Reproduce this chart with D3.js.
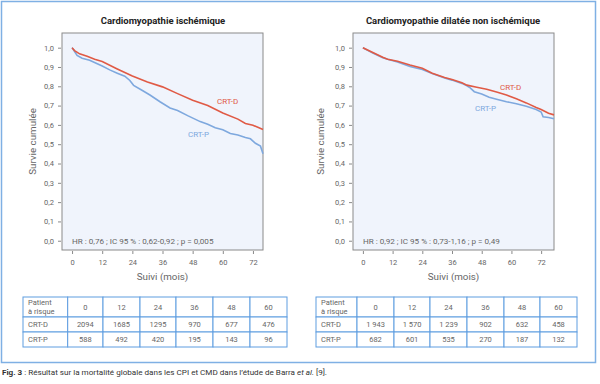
<!DOCTYPE html>
<html>
<head>
<meta charset="utf-8">
<script src="https://cdn.jsdelivr.net/npm/d3@7"></script>
<style>
  body { margin: 0; background: #fff; }
  svg { font-family: Roboto, "DejaVu Sans", sans-serif; }
</style>
</head>
<body>
<div id="chart"></div>
<script>
// ---- data ----
const panelTitles = ["Cardiomyopathie ischémique", "Cardiomyopathie dilatée non ischémique"];
const hrTexts = [
    "HR : 0,76 ; IC 95 % : 0,62-0,92 ; p = 0,005",
    "HR : 0,92 ; IC 95 % : 0,73-1,16 ; p = 0,49"
];
const seriesNames = ["CRT-D", "CRT-P"];
const xTicks = [0, 12, 24, 36, 48, 60, 72];
const yTicks = [0, 0.1, 0.2, 0.3, 0.4, 0.5, 0.6, 0.7, 0.8, 0.9, 1.0];

// left panel (ischemic)
const ischCrtdMonths = [0, 1, 3, 6, 9, 12, 18, 24, 30, 36, 42, 48, 54, 60, 66, 69, 72, 76];
const ischCrtdSurv   = [1.0, 0.985, 0.968, 0.955, 0.94, 0.928, 0.89, 0.853, 0.822, 0.797, 0.762, 0.728, 0.70, 0.662, 0.63, 0.607, 0.598, 0.576];
const ischCrtpMonths = [0, 1, 2, 4, 7, 12, 15, 18, 21, 23, 24.5, 28, 31, 35, 39, 42, 46, 51, 54, 57, 60, 63, 66, 69, 71, 73, 75, 75.5, 76];
const ischCrtpSurv   = [1.0, 0.98, 0.96, 0.945, 0.935, 0.905, 0.885, 0.868, 0.852, 0.83, 0.805, 0.778, 0.755, 0.72, 0.688, 0.675, 0.648, 0.617, 0.603, 0.585, 0.575, 0.555, 0.548, 0.535, 0.528, 0.505, 0.49, 0.47, 0.45];

// right panel (dilated non-ischemic)
const dilCrtdMonths = [0, 4, 8, 10, 14, 19, 24, 28, 33, 36, 40, 42, 46, 50, 54, 58, 62, 66, 70, 72, 75, 77.2];
const dilCrtdSurv   = [1.0, 0.975, 0.95, 0.94, 0.93, 0.91, 0.893, 0.868, 0.845, 0.835, 0.818, 0.806, 0.795, 0.785, 0.77, 0.755, 0.735, 0.714, 0.69, 0.68, 0.66, 0.652];
const dilCrtpMonths = [0, 4, 8, 10, 14, 19, 24, 28, 33, 36, 40, 42, 43, 45, 48, 51, 54, 58, 62, 66, 70, 72, 72.8, 75, 77.2];
const dilCrtpSurv   = [1.0, 0.972, 0.948, 0.94, 0.926, 0.902, 0.887, 0.866, 0.843, 0.832, 0.815, 0.803, 0.795, 0.772, 0.76, 0.743, 0.733, 0.72, 0.71, 0.697, 0.68, 0.667, 0.642, 0.638, 0.632];

// patients at risk
const riskHeader = ["0", "12", "24", "36", "48", "60"];
const ischRiskCrtd = ["2094", "1685", "1295", "970", "677", "476"];
const ischRiskCrtp = ["588", "492", "420", "195", "143", "96"];
const dilRiskCrtd = ["1 943", "1 570", "1 239", "902", "632", "458"];
const dilRiskCrtp = ["682", "601", "535", "270", "187", "132"];

const colors = { "CRT-D": "#e05a45", "CRT-P": "#7ea8de" };
const gray = "#666";
const tableBlue = "#5f9de0";

const width = 600, height = 384;

const svg = d3.select("#chart").append("svg")
    .attr("width", width)
    .attr("height", height);

// outer frame
svg.append("rect")
    .attr("x", 1.5).attr("y", 1.5)
    .attr("width", 594).attr("height", 361)
    .attr("fill", "none")
    .attr("stroke", "#7fb0e4")
    .attr("stroke-width", 1.5);

const panels = [
    {
        left: 62, right: 263, xMax: 76,
        title: panelTitles[0], titleX: 163,
        hr: hrTexts[0], yLabelX: 33,
        series: [
            { name: "CRT-P", months: ischCrtpMonths, surv: ischCrtpSurv },
            { name: "CRT-D", months: ischCrtdMonths, surv: ischCrtdSurv }
        ],
        labels: { "CRT-D": [217, 101], "CRT-P": [188, 134] },
        table: { x: 23, cols: [44.7, 35.3, 37, 36, 37, 37, 37], rows: [ischRiskCrtd, ischRiskCrtp] }
    },
    {
        left: 353, right: 554, xMax: 77.2,
        title: panelTitles[1], titleX: 453,
        hr: hrTexts[1], yLabelX: 321,
        series: [
            { name: "CRT-P", months: dilCrtpMonths, surv: dilCrtpSurv },
            { name: "CRT-D", months: dilCrtdMonths, surv: dilCrtdSurv }
        ],
        labels: { "CRT-D": [500, 87], "CRT-P": [475, 108] },
        table: { x: 316, cols: [41, 37, 36, 37, 37, 36, 37], rows: [dilRiskCrtd, dilRiskCrtp] }
    }
];

const plotTop = 33, plotBottom = 250;

panels.forEach(p => {
    let g = svg.append("g");

    let x = d3.scaleLinear().domain([-4, p.xMax]).range([p.left, p.right]);
    let y = d3.scaleLinear().domain([-0.048, 1.076]).range([plotBottom, plotTop]);

    // plot background + border
    g.append("rect")
        .attr("x", p.left).attr("y", plotTop)
        .attr("width", p.right - p.left).attr("height", plotBottom - plotTop)
        .attr("fill", "#f0f4fc")
        .attr("stroke", "#8a8a8a")
        .attr("stroke-width", 1);

    // title
    g.append("text")
        .attr("x", p.titleX).attr("y", 24)
        .attr("text-anchor", "middle")
        .style("font-size", "9.5px").style("font-weight", "bold")
        .attr("fill", "#222")
        .text(p.title);

    // axes
    let yAxis = d3.axisLeft(y).tickValues(yTicks).tickSize(3).tickPadding(4)
        .tickFormat(d => d3.format(".1f")(d).replace(".", ","));
    let ya = g.append("g").attr("transform", "translate(" + (p.left - 1) + ",0)").call(yAxis);

    let xAxis = d3.axisBottom(x).tickValues(xTicks).tickSize(3).tickPadding(6);
    let xa = g.append("g").attr("transform", "translate(0," + (plotBottom + 1) + ")").call(xAxis);

    [ya, xa].forEach(a => {
        a.select(".domain").remove();
        a.selectAll(".tick line").attr("stroke", "#8a8a8a");
        a.selectAll(".tick text").attr("fill", gray).style("font-size", "7.5px")
            .style("font-family", "Roboto, sans-serif");
    });

    // axis titles
    g.append("text")
        .attr("transform", "translate(" + p.yLabelX + "," + (plotTop + plotBottom) / 2 + ") rotate(-90)")
        .attr("text-anchor", "middle")
        .attr("dy", "0.35em")
        .style("font-size", "9.8px")
        .attr("fill", gray)
        .text("Survie cumulée");

    g.append("text")
        .attr("x", (p.left + p.right) / 2).attr("y", 280)
        .attr("text-anchor", "middle")
        .style("font-size", "9.8px")
        .attr("fill", gray)
        .text("Suivi (mois)");

    // HR annotation
    g.append("text")
        .attr("x", x(0)).attr("y", y(0)).attr("dy", "0.35em")
        .style("font-size", "8.1px")
        .attr("fill", gray)
        .text(p.hr);

    // curves
    let line = d3.line()
        .x(d => x(d[0]))
        .y(d => y(d[1]))
        .curve(d3.curveLinear);

    p.series.forEach(s => {
        let pts = s.months.map((m, i) => [m, s.surv[i]]);
        g.append("path")
            .datum(pts)
            .attr("d", line)
            .attr("fill", "none")
            .attr("stroke", colors[s.name])
            .attr("stroke-width", 1.6);

        g.append("text")
            .attr("x", p.labels[s.name][0]).attr("y", p.labels[s.name][1])
            .attr("dy", "0.35em")
            .style("font-size", "8px")
            .attr("fill", colors[s.name])
            .text(s.name);
    });

    // risk table
    let t = p.table;
    let rowH = [20, 15, 15];
    let rowY = [297, 317, 332, 347];
    let colX = [t.x];
    t.cols.forEach(w => colX.push(colX[colX.length - 1] + w));

    let tableRows = [["", ...riskHeader], ["CRT-D", ...t.rows[0]], ["CRT-P", ...t.rows[1]]];

    let tg = g.append("g");
    tableRows.forEach((row, r) => {
        row.forEach((cell, c) => {
            tg.append("rect")
                .attr("x", colX[c]).attr("y", rowY[r])
                .attr("width", colX[c + 1] - colX[c]).attr("height", rowH[r])
                .attr("fill", "#fff")
                .attr("stroke", tableBlue)
                .attr("stroke-width", 1);
            if (r === 0 && c === 0) {
                tg.append("text")
                    .attr("x", colX[0] + 5).attr("y", rowY[0] + 8)
                    .style("font-size", "7.5px").attr("fill", gray)
                    .text("Patient");
                tg.append("text")
                    .attr("x", colX[0] + 5).attr("y", rowY[0] + 17)
                    .style("font-size", "7.5px").attr("fill", gray)
                    .text("à risque");
            } else {
                tg.append("text")
                    .attr("x", c === 0 ? colX[0] + 5 : (colX[c] + colX[c + 1]) / 2)
                    .attr("y", rowY[r] + rowH[r] / 2)
                    .attr("dy", "0.35em")
                    .attr("text-anchor", c === 0 ? "start" : "middle")
                    .style("font-size", "7.5px").attr("fill", gray)
                    .text(cell);
            }
        });
    });
});

// caption
let cap = svg.append("text")
    .attr("x", 2).attr("y", 375)
    .style("font-size", "8.1px")
    .attr("fill", "#333");
cap.append("tspan").style("font-weight", "bold").text("Fig. 3");
cap.append("tspan").text(" : Résultat sur la mortalité globale dans les CPI et CMD dans l’étude de Barra ");
cap.append("tspan").style("font-style", "italic").text("et al.");
cap.append("tspan").text(" [9].");
</script>
</body>
</html>
